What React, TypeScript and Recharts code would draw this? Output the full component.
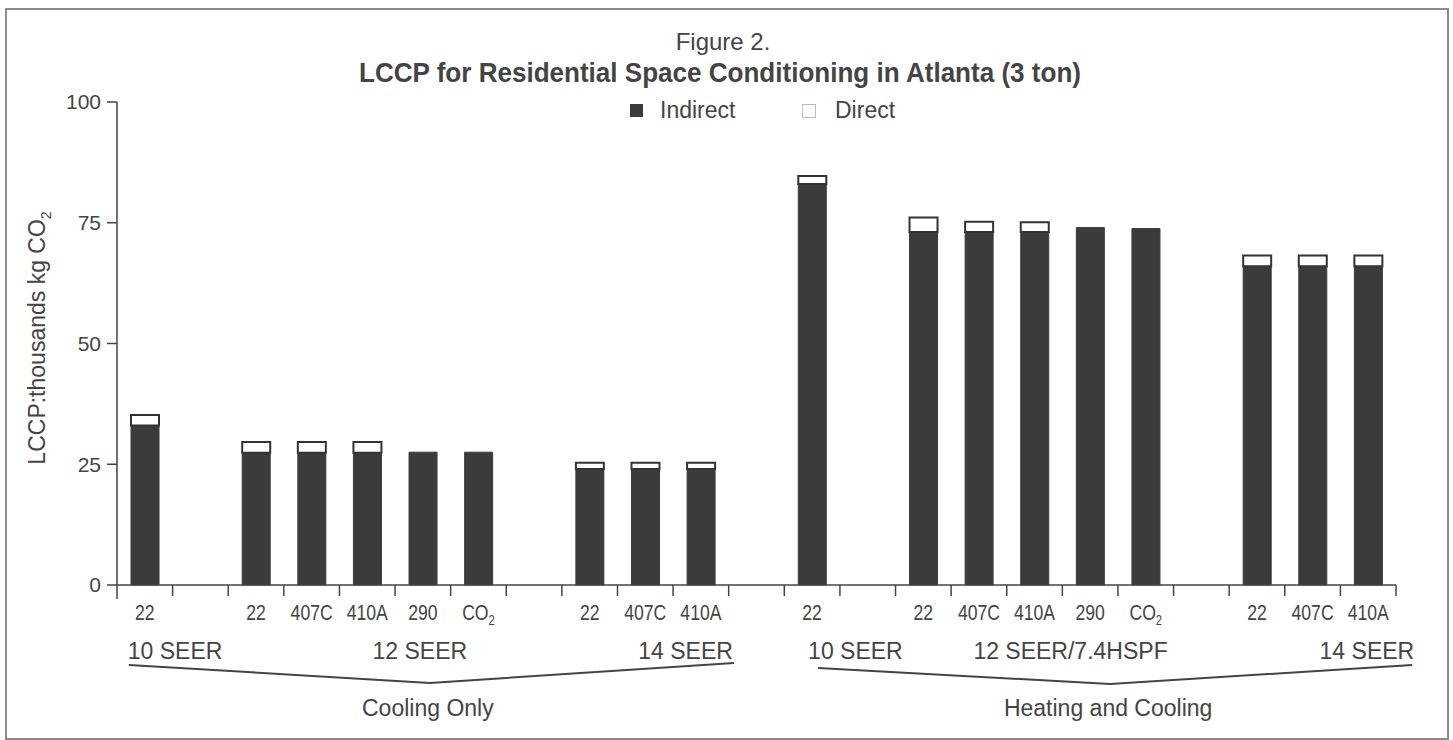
import { Bar, BarChart, Legend, XAxis, YAxis } from "recharts"

// values (thousands kg CO2)
const categories = ["22", "", "22", "407C", "410A", "290", "CO2", "", "22", "407C", "410A", "", "22", "", "22", "407C", "410A", "290", "CO2", "", "22", "407C", "410A"]
const indirect = [33, null, 27.4, 27.4, 27.4, 27.5, 27.5, null, 24, 24, 24, null, 83, null, 73.1, 73.1, 73.1, 74, 73.8, null, 66, 66, 66]
const direct = [2.2, null, 2.2, 2.2, 2.2, 0, 0, null, 1.3, 1.3, 1.3, null, 1.7, null, 3, 2.1, 2, 0, 0, null, 2.2, 2.2, 2.2]
const yTicks = [0, 25, 50, 75, 100]
const ratingLabels = ["10 SEER", "12 SEER", "14 SEER", "10 SEER", "12 SEER/7.4HSPF", "14 SEER"]
const groupLabels = ["Cooling Only", "Heating and Cooling"]

const data = categories.map((name, i) => ({ id: i, name, indirect: indirect[i], direct: direct[i] }))

const W = 1453
const H = 740
const PLOT_LEFT = 117
const PLOT_RIGHT = 1396
const PLOT_TOP = 102
const AXIS_Y = 585
const SLOT = (PLOT_RIGHT - PLOT_LEFT) / categories.length

const INK = "#444"
const BAR = "#3b3b3b"
const SANS = '"Liberation Sans", Arial, Helvetica, sans-serif'

// where the rating labels sit, relative to a category slot
const ratingPlace = [
    { at: 0, anchor: "start", dx: -17 },
    { at: 5, anchor: "middle", dx: -3 },
    { at: 10, anchor: "end", dx: 32 },
    { at: 12, anchor: "start", dx: -4 },
    { at: 16, anchor: "middle", dx: 36 },
    { at: 22, anchor: "end", dx: 46 },
]

// the V shaped braces under the two halves
const braces = [
    { from: 0, dxFrom: -16, yFrom: 665, mid: 5, dxMid: 7, yMid: 683, to: 10, dxTo: 33, yTo: 663 },
    { from: 12, dxFrom: 6, yFrom: 668, mid: 17, dxMid: 20, yMid: 684, to: 22, dxTo: 44, yTo: 665 },
]

// helvetica condensed look: squeeze regular sans horizontally
const SQUEEZE = 0.8

function CategoryTick(props: any) {
    const { x, index } = props
    const label = categories[index]
    const half = SLOT / 2
    return (
        <g>
            <line x1={x + half} y1={AXIS_Y} x2={x + half} y2={AXIS_Y + 11} stroke={INK} strokeWidth={1.5} />
            {index === 0 && (
                <line x1={x - half} y1={AXIS_Y} x2={x - half} y2={AXIS_Y + 14} stroke={INK} strokeWidth={1.5} />
            )}
            <g transform={`translate(${x}, ${AXIS_Y + 35}) scale(${SQUEEZE}, 1)`}>
                {label === "CO2" ? (
                    <text x={0} y={0} textAnchor="middle" fontSize={22} fontFamily={SANS} fill={INK}>
                        CO<tspan fontSize={14} dy={5}>2</tspan>
                    </text>
                ) : (
                    <text x={0} y={0} textAnchor="middle" fontSize={22} fontFamily={SANS} fill={INK}>
                        {label}
                    </text>
                )}
            </g>
            {ratingPlace.map((r, k) =>
                r.at === index ? (
                    <text key={k} x={x + r.dx} y={AXIS_Y + 74} textAnchor={r.anchor as any} fontSize={23} fontFamily={SANS} fill={INK}>
                        {ratingLabels[k]}
                    </text>
                ) : null
            )}
            {braces.map((b, k) => {
                if (b.from !== index) return null
                const x0 = x + b.dxFrom
                const xm = x + (b.mid - b.from) * SLOT + b.dxMid
                const x1 = x + (b.to - b.from) * SLOT + b.dxTo
                return (
                    <g key={k}>
                        <polyline points={`${x0},${b.yFrom} ${xm},${b.yMid} ${x1},${b.yTo}`} fill="none" stroke={INK} strokeWidth={2} />
                        <text x={xm - 2} y={716} textAnchor="middle" fontSize={23} fontFamily={SANS} fill={INK}>
                            {groupLabels[k]}
                        </text>
                    </g>
                )
            })}
        </g>
    )
}

function YTitle() {
    return (
        <text transform="translate(45, 338) rotate(-90)" textAnchor="middle" fontSize={23} fontFamily={SANS} fill={INK}>
            LCCP:thousands kg CO<tspan fontSize={14} dy={6}>2</tspan>
        </text>
    )
}

function LegendBox() {
    return (
        <div style={{ position: "relative", width: W, height: 30, fontFamily: SANS, fontSize: 23, color: INK }}>
            <div style={{ position: "absolute", left: 630, top: 8, width: 13, height: 13, background: BAR }} />
            <div style={{ position: "absolute", left: 660, top: 1, lineHeight: "26px" }}>Indirect</div>
            <div style={{ position: "absolute", left: 802, top: 8, width: 12, height: 12, border: "1px solid #bbb", background: "#fff" }} />
            <div style={{ position: "absolute", left: 835, top: 1, lineHeight: "26px" }}>Direct</div>
        </div>
    )
}

export default function App() {
    return (
        <div style={{ position: "absolute", left: 0, top: 0, width: W, height: H, background: "#fff" }}>
            <div style={{ position: "absolute", left: 5, top: 8, width: 1440, height: 728, border: "2px solid #8c8c8c" }} />
            <div style={{ position: "absolute", left: 0, top: 29, width: 1446, textAlign: "center", fontFamily: SANS, fontSize: 24, lineHeight: "26px", color: INK }}>
                Figure 2.
            </div>
            <div
                style={{
                    position: "absolute",
                    left: 0,
                    top: 58,
                    width: 1440,
                    textAlign: "center",
                    fontFamily: SANS,
                    fontWeight: "bold",
                    fontSize: 28,
                    lineHeight: "30px",
                    color: INK,
                    transform: "scaleX(0.93)",
                }}
            >
                LCCP for Residential Space Conditioning in Atlanta (3 ton)
            </div>
            <BarChart
                width={W}
                height={H}
                data={data}
                barSize={28}
                margin={{ top: PLOT_TOP, right: W - PLOT_RIGHT, bottom: 25, left: PLOT_LEFT - 70 }}
                style={{ position: "absolute", left: 0, top: 0 }}
            >
                <XAxis
                    dataKey="id"
                    type="category"
                    interval={0}
                    height={H - AXIS_Y - 25}
                    tickLine={false}
                    axisLine={{ stroke: INK, strokeWidth: 1.5 }}
                    tick={<CategoryTick />}
                />
                <YAxis
                    width={70}
                    domain={[0, 100]}
                    ticks={yTicks}
                    interval={0}
                    tickSize={10}
                    tickMargin={6}
                    axisLine={{ stroke: INK, strokeWidth: 1.5 }}
                    tickLine={{ stroke: INK, strokeWidth: 1.5 }}
                    tick={{ fontSize: 21, fill: INK, fontFamily: SANS }}
                    label={<YTitle />}
                />
                <Legend
                    verticalAlign="middle"
                    align="center"
                    content={() => <LegendBox />}
                    wrapperStyle={{ position: "absolute", top: 96, left: 0, width: W, height: 30 }}
                />
                <Bar dataKey="indirect" name="Indirect" stackId="lccp" fill={BAR} stroke={BAR} isAnimationActive={false} />
                <Bar dataKey="direct" name="Direct" stackId="lccp" fill="#fff" stroke="#333" strokeWidth={2} isAnimationActive={false} />
            </BarChart>
        </div>
    )
}
